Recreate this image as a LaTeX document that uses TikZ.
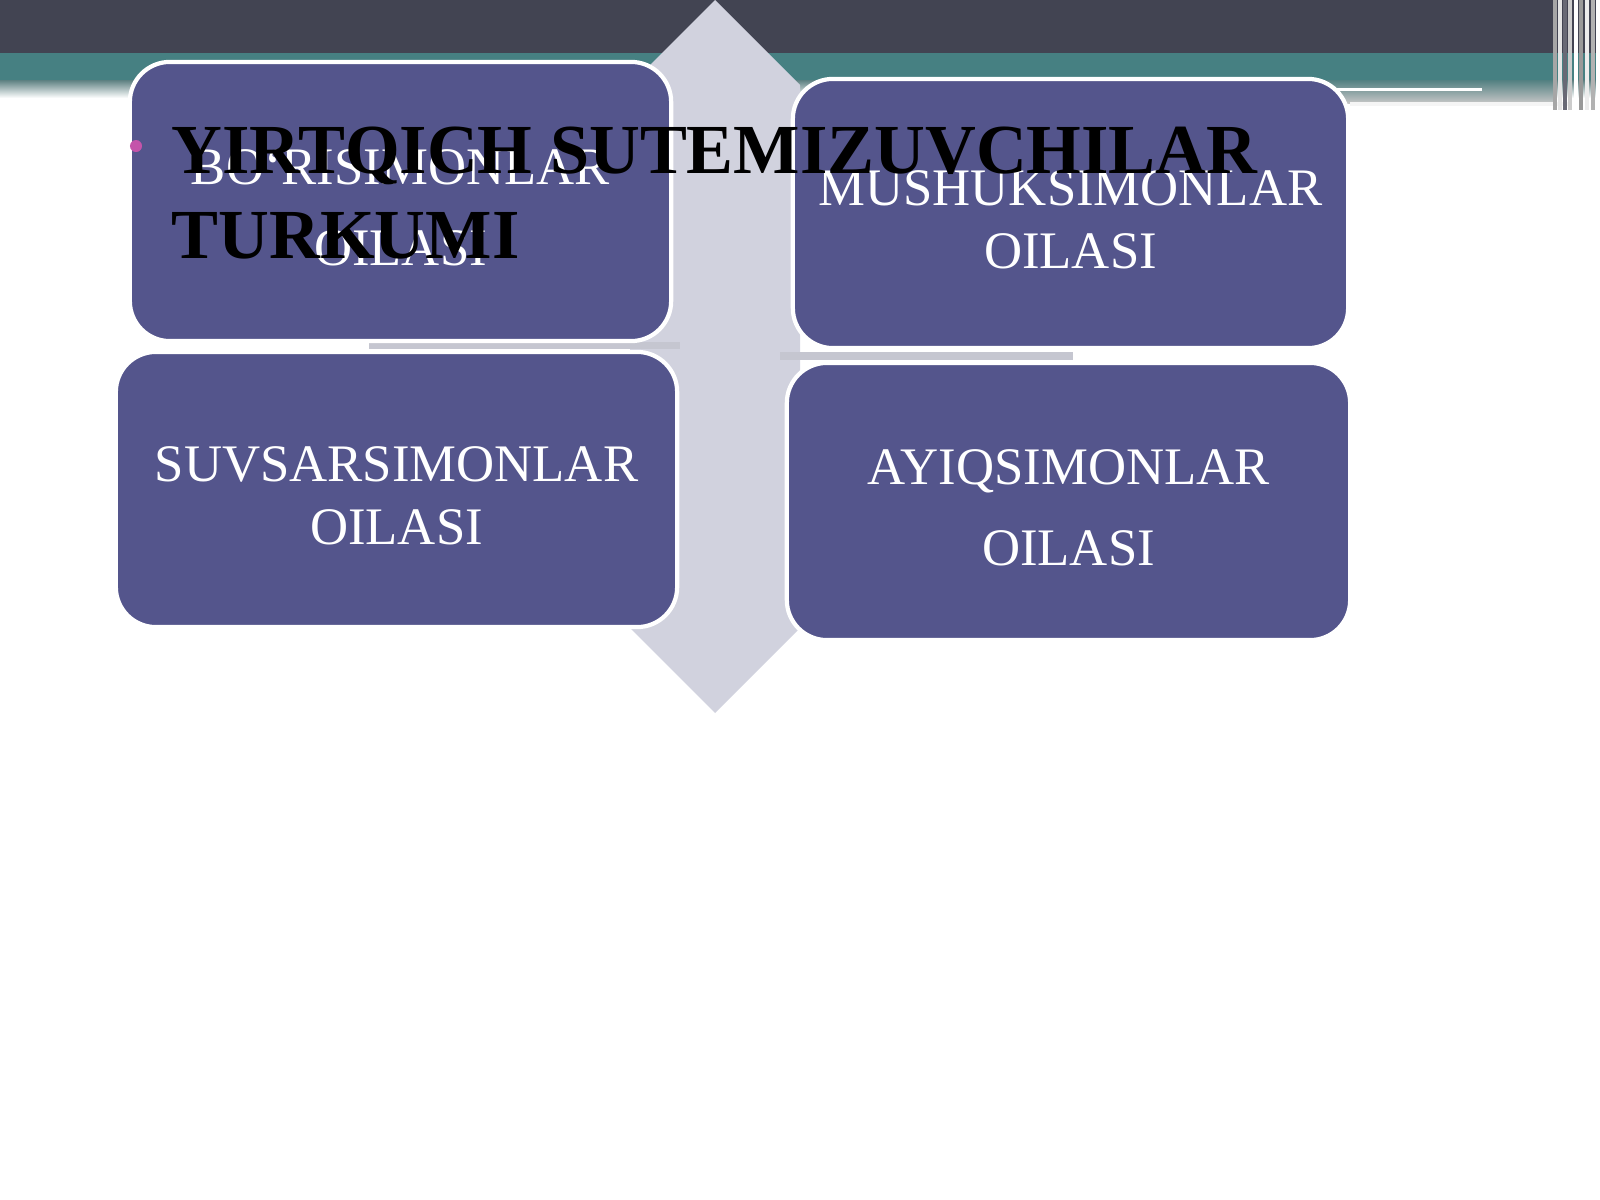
\documentclass[tikz,border=0pt]{standalone}
\usepackage{fontspec}
\setmainfont{Liberation Serif}
\usetikzlibrary{positioning}
\definecolor{BandDark}{RGB}{66,68,82}
\definecolor{BandTeal}{RGB}{70,128,130}
\definecolor{BoxPurple}{RGB}{84,85,140}
\definecolor{ArrowGray}{RGB}{209,210,222}
\definecolor{BulletPink}{RGB}{196,84,170}
\newcommand{\topgap}{\rule{0pt}{13.5pt}}

\begin{document}
\begin{tikzpicture}[x=0.01cm, y=-0.01cm,
            family/.style={rectangle, rounded corners=0.4cm, draw=white, line width=1.2pt,
                        fill=BoxPurple, text=white, align=center, inner sep=0pt},
            tight/.style={font=\fontsize{15}{18}\selectfont},
            loose/.style={font=\fontsize{15}{23.3}\selectfont},
            shadowbar/.style={fill=ArrowGray!85!gray}
        ]
            \useasboundingbox (0,0) rectangle (1600,1200);
            % top band
            \fill[BandDark] (0,0) rectangle (1600,53);
            \fill[BandTeal] (0,53) rectangle (1600,80);
            \shade[top color=BandTeal!60!gray, bottom color=white] (0,80) rectangle (1600,98);
            \shade[top color=BandTeal!80!gray, bottom color=gray!45] (1330,80) rectangle (1553,103);
            \fill[white] (1333,88) rectangle (1482,91);
            \fill[white!92!gray] (1350,102) rectangle (1570,106);
            \foreach \sx/\sc in {1553/gray!70, 1558/white!80!gray, 1563/BandDark!80, 1568/gray!40,
                                 1574/white, 1579/gray!80, 1585/white!85!gray, 1591/gray!60, 1596/white}
                \fill[\sc] (\sx,0) rectangle ++(4,110);

            % up-down arrow behind the boxes
            \fill[ArrowGray] (715,0) -- (800,85) -- (800,628) -- (715,713)
                -- (630,628) -- (630,85) -- cycle;
            \fill[shadowbar] (369,342) rectangle (680,349);
            \fill[shadowbar] (780,352) rectangle (1073,360);

            \node[family, loose, minimum width=5.41cm, minimum height=2.79cm] (wolves) at (400.5,201.5)
                {\topgap BO‘RISIMONLAR\\OILASI};
            \node[family, tight, minimum width=5.55cm, minimum height=2.69cm] (cats) at (1070.5,213.5)
                {\topgap MUSHUKSIMONLAR\\OILASI};
            \node[family, tight, minimum width=5.61cm, minimum height=2.75cm] (martens) at (396.5,489.5)
                {\topgap SUVSARSIMONLAR\\OILASI};
            \node[family, loose, minimum width=5.63cm, minimum height=2.77cm] (bears) at (1068.5,501.5)
                {\topgap AYIQSIMONLAR\\OILASI};

            % title over the boxes
            \node[circle, fill=BulletPink, minimum size=0.12cm, inner sep=0pt] (bullet) at (136,146) {};
            \node[anchor=north west, inner sep=0pt, align=left,
                  font=\bfseries\fontsize{20}{24.2}\selectfont] (title) at (171,126)
                {YIRTQICH SUTEMIZUVCHILAR\\TURKUMI};
        \end{tikzpicture}
\end{document}
